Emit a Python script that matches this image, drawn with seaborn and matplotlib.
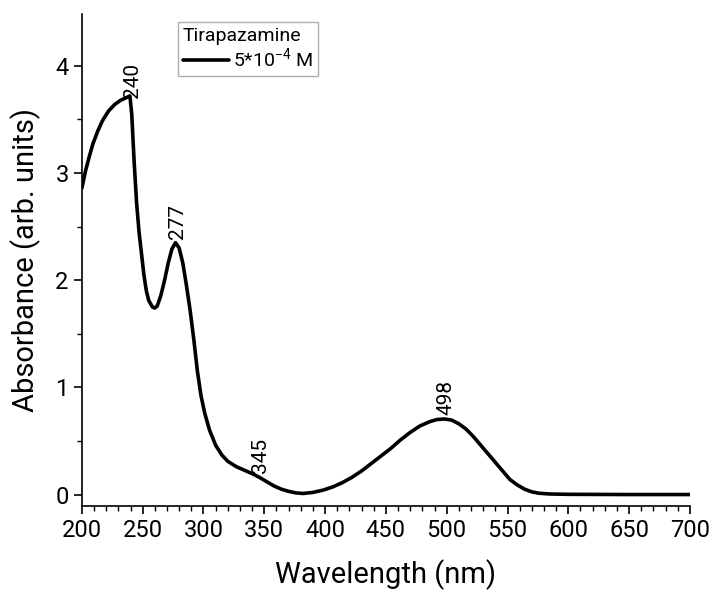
import numpy as np
import pandas as pd
import seaborn as sns
import matplotlib.pyplot as plt
from matplotlib.ticker import MultipleLocator

# absorption spectrum
wavelength = [200, 203, 206, 209, 213, 217, 222, 227, 232, 236, 239.5, 241, 243, 245, 247,
              249, 251, 253, 255, 258, 260, 262, 265, 268, 271, 274, 277, 280, 283, 286,
              289, 292, 295, 298, 301, 305, 310, 315, 320, 327, 335, 341, 346, 352, 358,
              364, 370, 376, 382, 390, 398, 406, 414, 422, 430, 438, 446, 454, 462, 470,
              478, 486, 492, 498, 504, 510, 516, 522, 528, 534, 540, 546, 552, 558, 564,
              570, 576, 585, 600, 650, 700]
absorbance = [2.86, 3.02, 3.15, 3.27, 3.39, 3.49, 3.58, 3.64, 3.68, 3.70, 3.72, 3.55, 3.10, 2.72, 2.45,
              2.25, 2.05, 1.90, 1.81, 1.75, 1.74, 1.76, 1.86, 2.00, 2.16, 2.29, 2.35, 2.30, 2.16, 1.95,
              1.72, 1.45, 1.15, 0.92, 0.76, 0.60, 0.46, 0.37, 0.31, 0.26, 0.22, 0.19, 0.16, 0.12, 0.08,
              0.05, 0.03, 0.015, 0.01, 0.02, 0.04, 0.07, 0.11, 0.16, 0.22, 0.29, 0.36, 0.43, 0.51, 0.58,
              0.64, 0.68, 0.70, 0.705, 0.695, 0.66, 0.61, 0.54, 0.46, 0.38, 0.30, 0.22, 0.14, 0.09, 0.05,
              0.025, 0.012, 0.005, 0.002, 0.0, 0.0]
peak_labels = [240, 277, 345, 498]

df = pd.DataFrame({'Wavelength': wavelength, 'Absorbance': absorbance})

sns.set_style('ticks')
plt.rcParams['font.family'] = ['Roboto', 'DejaVu Sans']
plt.rcParams['mathtext.fontset'] = 'custom'
plt.rcParams['mathtext.rm'] = 'Roboto'
for k in ['text.color', 'axes.labelcolor', 'xtick.color', 'ytick.color', 'axes.edgecolor']:
    plt.rcParams[k] = 'black'

fig = plt.figure(figsize=(7.12, 5.93), dpi=100)
ax = fig.add_axes([0.115, 0.1467, 0.854, 0.829])

sns.lineplot(data=df, x='Wavelength', y='Absorbance', color='black',
             linewidth=2.6, label=r'5*10$^{\mathrm{-4}}$ M', ax=ax)

# peak labels
for p in peak_labels:
    yv = np.interp(p, wavelength, absorbance)
    ax.annotate(str(p), xy=(p, yv), xytext=(1.5, 3), textcoords='offset points',
                rotation=90, ha='center', va='bottom', fontsize=15)

ax.set_xlim(200, 700)
ax.set_ylim(-0.107, 4.48)
ax.xaxis.set_major_locator(MultipleLocator(50))
ax.xaxis.set_minor_locator(MultipleLocator(10))
ax.yaxis.set_major_locator(MultipleLocator(1))
ax.yaxis.set_minor_locator(MultipleLocator(0.5))
ax.tick_params(which='major', length=6, width=1.2, labelsize=17, direction='out')
ax.tick_params(which='minor', length=3.5, width=1.0, direction='out')
for s in ['left', 'bottom']:
    ax.spines[s].set_linewidth(1.2)
sns.despine(ax=ax)

ax.set_xlabel('Wavelength (nm)', fontsize=21, labelpad=12)
ax.set_ylabel('Absorbance (arb. units)', fontsize=21, labelpad=10)

leg = ax.legend(title='Tirapazamine', loc='upper left', bbox_to_anchor=(0.158, 0.985),
                borderaxespad=0, fontsize=14, title_fontsize=14, frameon=True,
                fancybox=False, edgecolor='#999999', handlelength=2.4,
                handletextpad=0.2, borderpad=0.25, labelspacing=0.1)
leg.get_frame().set_linewidth(1.0)
leg._legend_box.align = 'left'

plt.savefig('out.png', dpi=100)
